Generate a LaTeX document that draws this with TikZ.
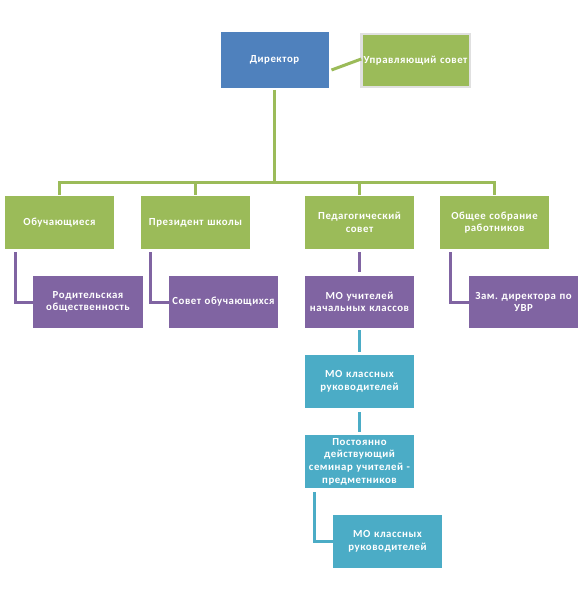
\documentclass[tikz,border=0pt]{standalone}
\usepackage{fontspec}
\setmainfont{Carlito}[LetterSpace=5]
\definecolor{boxblue}{HTML}{4F81BD}
\definecolor{boxgreen}{HTML}{9BBB59}
\definecolor{boxpurple}{HTML}{8064A2}
\definecolor{boxcyan}{HTML}{4BACC6}
\frenchspacing

\begin{document}
\begin{tikzpicture}[x=1pt, y=-1pt,
	box/.style={rectangle, inner sep=0pt, outer sep=0pt, minimum width=109pt, minimum height=53pt,
		text width=108pt, align=center, text=white, font=\bfseries\fontsize{10.8}{12.7}\selectfont},
	gbox/.style={box, fill=boxgreen},
	pbox/.style={box, fill=boxpurple, minimum height=52pt},
	cbox/.style={box, fill=boxcyan},
	gline/.style={draw=boxgreen, line width=3pt},
	pline/.style={draw=boxpurple, line width=3pt},
	cline/.style={draw=boxcyan, line width=3pt}]
	\useasboundingbox[fill=white] (0,0) rectangle (583,601);

	\node[box, fill=boxblue, minimum width=105pt, minimum height=56pt] (dir) at (274.5,60) {Директор};
	\node[gbox, draw=black!12, line width=2.5pt, minimum width=108.5pt] (upr) at (415.5,60.5) {Управляющий совет};

	\node[gbox] (obu) at (59.5,222.5) {Обучающиеся};
	\node[gbox] (pre) at (195.5,222.5) {Президент школы};
	\node[gbox] (ped) at (359.5,222.5) {Педагогический\\совет};
	\node[gbox] (obs) at (494.5,222.5) {Общее собрание\\работников};

	\node[pbox, minimum width=110pt] (rod) at (88,302) {Родительская\\общественность};
	\node[pbox] (sov) at (223.5,302) {Совет обучающихся};
	\node[pbox] (mo1) at (359.5,302) {МО учителей\\начальных классов};
	\node[pbox] (zam) at (523.5,302) {Зам. директора по\\УВР};

	\node[cbox] (mo2) at (359.5,381.5) {МО классных\\руководителей};
	\node[cbox] (post) at (359.5,461.5) {Постоянно\\действующий\\семинар учителей -\\предметников};
	\node[cbox] (mo3) at (387.5,541.5) {МО классных\\руководителей};

	\draw[gline] ([xshift=3pt,yshift=-10pt]dir.east) -- ([yshift=1.5pt]upr.west);
	\coordinate (bus) at (274.5,183);
	\draw[gline] ([yshift=-2pt]dir.south) -- (dir.south |- bus);
	\foreach \n in {obu,pre,ped,obs}
		\draw[gline] ([yshift=1pt]\n.north) |- (bus);

	\draw[pline] ([xshift=10pt,yshift=-3pt]obu.south west) |- (rod.west);
	\draw[pline] ([xshift=9pt,yshift=-3pt]pre.south west) |- (sov.west);
	\draw[pline] ([yshift=-3pt]ped.south) -- ([yshift=4pt]mo1.north);
	\draw[pline] ([xshift=10pt,yshift=-3pt]obs.south west) |- (zam.west);

	\draw[cline] ([yshift=-2pt]mo1.south) -- ([yshift=3pt]mo2.north);
	\draw[cline] ([yshift=-4pt]mo2.south) -- ([yshift=3pt]post.north);
	\draw[cline] ([xshift=9pt,yshift=-4pt]post.south west) |- (mo3.west);
\end{tikzpicture}
\end{document}
